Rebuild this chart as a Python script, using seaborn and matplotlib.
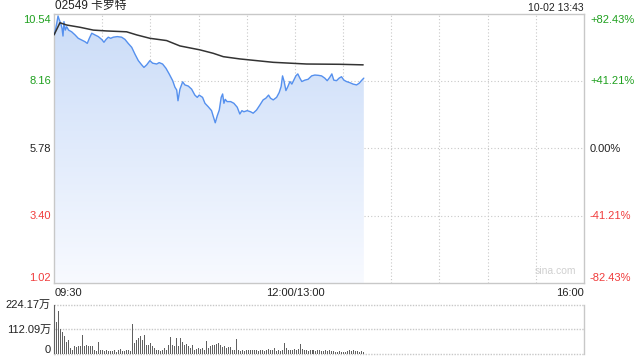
import numpy as np
import pandas as pd
import matplotlib
matplotlib.use("Agg")
import matplotlib.pyplot as plt
from matplotlib.colors import LinearSegmentedColormap
import seaborn as sns

# ---------------- data ----------------
title = "02549 卡罗特"
stamp = "10-02 13:43"
prev_close = 5.78
price_ticks = [10.54, 8.16, 5.78, 3.40, 1.02]
pct_labels = ["+82.43%", "+41.21%", "0.00%", "-41.21%", "-82.43%"]
time_labels = ["09:30", "12:00/13:00", "16:00"]
time_label_pos = [0, 150, 330]
vol_labels = ["224.17万", "112.09万", "0"]
vol_ticks = [224.17, 112.09, 0]

# minutes since 09:30 (lunch break collapsed at 150)
price_t = [0.4, 1.7, 2.5, 3.3, 4.2, 5.0, 5.6, 6.2, 7.0, 7.9, 9.1, 11.0, 13.1, 15.1, 17.2,
           19.3, 20.7, 22.0, 23.5, 25.5, 27.6, 29.7, 31.1, 32.4, 33.8, 35.3, 36.9, 39.4,
           42.1, 44.2, 46.2, 48.4, 50.4, 52.5, 54.6, 56.0, 57.7, 59.7, 61.4, 63.9, 65.5,
           67.6, 69.7, 71.7, 73.9, 75.3, 76.4, 77.2, 78.4, 80.1, 81.5, 83.6, 85.7, 87.7,
           89.2, 90.4, 92.5, 94.0, 96.0, 98.1, 99.1, 100.4, 101.6, 102.9, 104.1, 105.0,
           105.8, 106.6, 107.8, 110.0, 112.0, 114.1, 115.7, 117.0, 118.2, 120.3, 122.4,
           124.0, 126.1, 128.2, 130.2, 131.9, 133.6, 134.8, 136.5, 138.6, 140.2, 141.4,
           142.3, 143.3, 144.4, 145.6, 146.9, 148.1, 149.3, 150.6, 151.8, 153.1, 154.3,
           156.2, 158.2, 160.4, 162.4, 164.5, 166.6, 168.6, 170.1, 171.7, 173.0, 174.2,
           175.9, 177.5, 179.0, 180.5, 182.1, 184.2, 186.2, 188.4, 190.0, 191.7, 192.9]
price = [9.83, 10.21, 10.47, 10.33, 10.21, 10.03, 9.76, 10.27, 9.97, 10.09, 9.97, 9.91,
         9.80, 9.68, 9.62, 9.56, 9.50, 9.68, 9.86, 9.80, 9.74, 9.64, 9.54, 9.64, 9.72,
         9.68, 9.72, 9.74, 9.72, 9.64, 9.50, 9.36, 9.12, 8.89, 8.74, 8.65, 8.74, 8.89,
         8.80, 8.77, 8.82, 8.77, 8.62, 8.42, 8.18, 7.95, 7.85, 7.47, 7.88, 8.14, 8.03,
         7.99, 7.88, 7.67, 7.59, 7.67, 7.59, 7.38, 7.26, 7.12, 6.93, 6.69, 6.93, 7.14,
         7.59, 7.71, 7.38, 7.52, 7.44, 7.44, 7.38, 7.24, 7.00, 7.12, 7.08, 7.12, 7.08,
         7.03, 7.14, 7.32, 7.50, 7.56, 7.67, 7.56, 7.50, 7.59, 7.76, 7.97, 8.35, 8.15,
         7.83, 7.97, 8.15, 8.06, 8.20, 8.35, 8.42, 8.27, 8.15, 8.20, 8.23, 8.35, 8.38,
         8.37, 8.35, 8.27, 8.18, 8.30, 8.42, 8.20, 8.18, 8.27, 8.32, 8.20, 8.15, 8.11,
         8.06, 8.03, 8.09, 8.20, 8.27]

avg_t = [0, 3.7, 7.9, 16.2, 24.5, 32.8, 45.2, 51.5, 59.7, 70.1, 78.4, 90.9, 99.1, 105.4,
         115.7, 126.1, 136.5, 146.9, 157.3, 178.0, 192.5]
avg_price = [9.80, 10.23, 10.15, 10.07, 9.97, 9.94, 9.91, 9.80, 9.68, 9.60, 9.41, 9.27,
             9.15, 9.03, 8.95, 8.89, 8.83, 8.80, 8.77, 8.76, 8.74]

# volume (万股), one bar each as seen in the picture
volume = [224, 148, 197, 113, 101, 83, 57, 65, 27, 20, 38, 33, 35, 38, 88, 38, 42, 35, 38,
          35, 20, 12, 57, 20, 20, 12, 20, 15, 12, 12, 17, 8, 20, 23, 12, 12, 20, 20, 15,
          138, 50, 65, 73, 83, 65, 86, 42, 42, 50, 38, 27, 20, 17, 12, 20, 27, 20, 42, 77,
          42, 35, 73, 38, 73, 53, 42, 47, 35, 27, 42, 20, 23, 27, 23, 27, 20, 61, 27, 38,
          42, 42, 47, 50, 42, 32, 35, 27, 32, 32, 20, 20, 70, 17, 12, 17, 12, 20, 17, 20,
          17, 20, 17, 12, 17, 20, 12, 17, 23, 20, 17, 27, 12, 17, 12, 17, 50, 27, 17, 20,
          17, 23, 17, 23, 45, 23, 17, 20, 12, 17, 20, 17, 12, 20, 17,
          12, 15, 17, 12, 20, 15, 12, 10, 8, 12, 10, 8, 10, 12, 17, 15, 20, 12, 15, 10, 12, 8]
vol_start, vol_end = 0.6, 192.9   # minutes of first and last bar

# ---------------- style ----------------
sns.set_theme(style="white")
plt.rcParams['font.family'] = ['Liberation Sans', 'Noto Sans CJK SC', 'DejaVu Sans']

GREEN = "#1ea01e"
RED = "#f03c3c"
GRID = "#c8c8c8"
FRAME = "#c8c8c8"

W, H = 640, 360
fig = plt.figure(figsize=(6.4, 3.6), dpi=100)
L, R = 54 / W, 584 / W
ax = fig.add_axes([L, 1 - 283 / H, R - L, (283 - 14) / H])
axv = fig.add_axes([L, 1 - 354 / H, R - L, (354 - 305) / H])

ymin, ymax = price_ticks[-1], price_ticks[0]
xmax = 330

# gradient fill under price line
df = pd.DataFrame({"t": price_t, "p": price})
poly = ax.fill_between(df["t"], df["p"], ymin, color="none", lw=0)
cmap = LinearSegmentedColormap.from_list("g", ["#f8faff", "#cadcf8"])
grad = np.linspace(0, 1, 256).reshape(-1, 1)
im = ax.imshow(grad, extent=[0, max(price_t), ymin, max(price)], aspect="auto",
               cmap=cmap, origin="lower", zorder=1)
im.set_clip_path(poly.get_paths()[0], transform=ax.transData)

# grid
for yv in price_ticks[1:-1]:
    ax.axhline(yv, color=GRID, lw=0.8, ls=(0, (1, 2)), zorder=0.5)
for xv in range(30, xmax, 30):
    ax.axvline(xv, color=GRID, lw=0.8, ls=(0, (1, 2)), zorder=0.5)

sns.lineplot(data=df, x="t", y="p", ax=ax, color="#5590ee", lw=1.0,
             estimator=None, sort=False, zorder=3)
sns.lineplot(x=avg_t, y=avg_price, ax=ax, color="#333333", lw=1.1,
             estimator=None, sort=False, zorder=3)

ax.set_xlim(0, xmax)
ax.set_ylim(ymin, ymax)
ax.set_xticks([]); ax.set_yticks([])
ax.set_xlabel(""); ax.set_ylabel("")
for s in ax.spines.values():
    s.set_color(FRAME); s.set_linewidth(1.0)

# left / right labels
lab_cols = [GREEN, GREEN, "#222222", RED, RED]
offsets = [-6, 0, 0, 0, 5]  # px, top label pushed down, bottom up
for v, lab, pl, c, off in zip(price_ticks, [f"{x:.2f}" for x in price_ticks],
                              pct_labels, lab_cols, offsets):
    yfig = ax.transData.transform((0, v))[1] + off
    yf = yfig / H
    fig.text(51 / W, yf, lab, ha="right", va="center", fontsize=8, color=c)
    fig.text(590 / W, yf, pl, ha="left", va="center", fontsize=8, color=c)

# time labels
fig.text(55 / W, 1 - 293 / H, time_labels[0], ha="left", va="center", fontsize=8, color="#222222")
xm = ax.transData.transform((time_label_pos[1], 0))[0] / W
fig.text(xm, 1 - 293 / H, time_labels[1], ha="center", va="center", fontsize=8, color="#222222")
fig.text(584 / W, 1 - 293 / H, time_labels[2], ha="right", va="center", fontsize=8, color="#222222")

# title and stamp
fig.text(55 / W, 1 - 6 / H, title, ha="left", va="center", fontsize=8.5, color="#222222")
fig.text(584 / W, 1 - 8 / H, stamp, ha="right", va="center", fontsize=7.5, color="#222222")

# watermark
ax.text(0.985, 0.025, "sina.com", transform=ax.transAxes, ha="right", va="bottom",
        fontsize=7.5, color="#d0d0d0")

# ---------------- volume ----------------
# categorical bars; axis limits map bar index onto the same minute scale
n = len(volume)
step = (vol_end - vol_start) / (n - 1)
vdf = pd.DataFrame({"i": np.arange(n), "v": volume})
sns.barplot(data=vdf, x="i", y="v", ax=axv, width=0.5, order=list(range(n)),
            color="#606060", saturation=1, errorbar=None, zorder=3,
            linewidth=0, edgecolor="none")
axv.set_xlim(-vol_start / step, (xmax - vol_start) / step)
axv.set_ylim(0, vol_ticks[0])
axv.set_xticks([]); axv.set_yticks([])
axv.set_xlabel(""); axv.set_ylabel("")
for k in ["top", "bottom"]:
    axv.spines[k].set_visible(False)
for k in ["left", "right"]:
    axv.spines[k].set_color(FRAME); axv.spines[k].set_linewidth(1.0)
for yv in vol_ticks:
    axv.axhline(yv, color=GRID, lw=1.0, ls=(0, (1, 1)), zorder=0.5, clip_on=False)
voff = [0, 0, -4]
for v, lab, off in zip(vol_ticks, vol_labels, voff):
    yf = (axv.transData.transform((0, v))[1] + (-off)) / H
    fig.text(51 / W, yf, lab, ha="right", va="center", fontsize=8, color="#222222")

fig.savefig("out.png", dpi=100)
